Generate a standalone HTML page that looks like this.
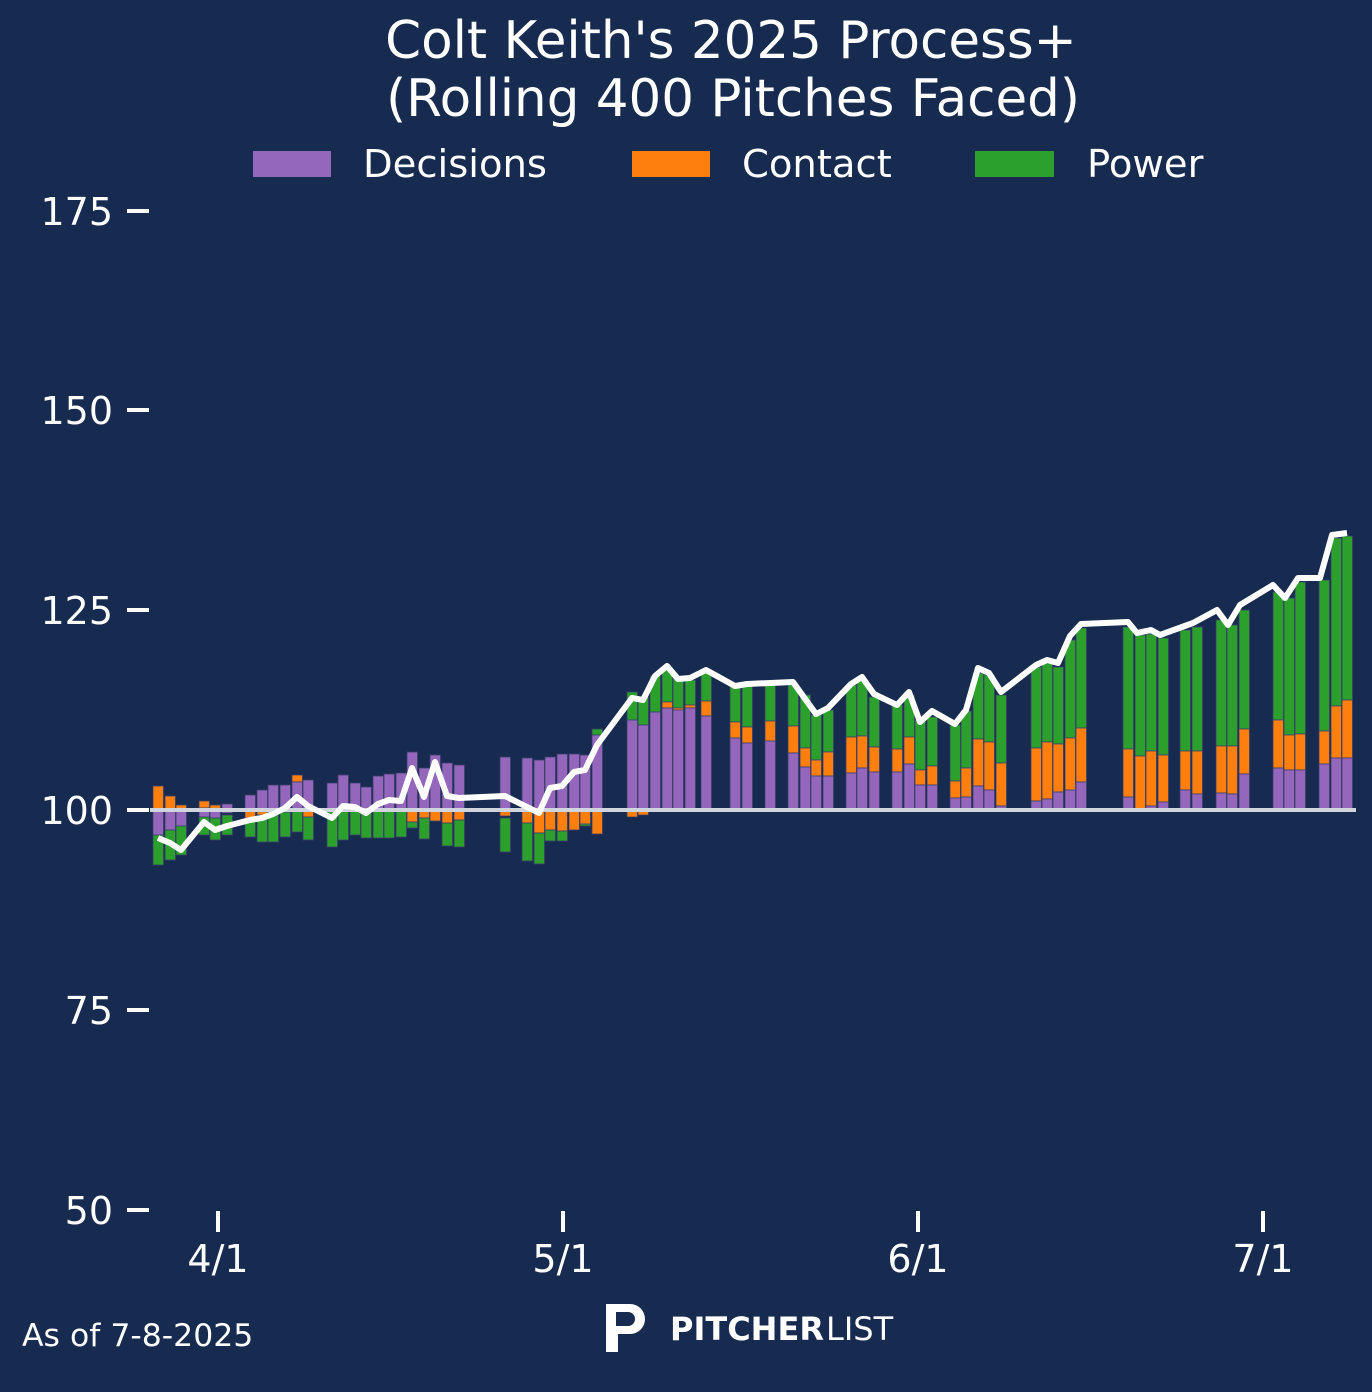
<!DOCTYPE html>
<html><head><meta charset="utf-8"><style>
html,body{margin:0;padding:0;background:#172a50;}
svg{display:block;}
text{font-family:"DejaVu Sans","Liberation Sans",sans-serif;fill:#fff;}
</style></head><body>
<svg id="s" width="1372" height="1392" viewBox="0 0 1372 1392" xmlns="http://www.w3.org/2000/svg">
<rect width="1372" height="1392" fill="#172a50"/>
<text x="731" y="58" font-size="51.5" text-anchor="middle">Colt Keith's 2025 Process+</text>
<text x="733" y="116" font-size="51.5" text-anchor="middle">(Rolling 400 Pitches Faced)</text>
<rect x="253" y="151" width="78" height="26" fill="#9467bd"/>
<text x="363" y="177" font-size="38.5">Decisions</text>
<rect x="632" y="151" width="78" height="26" fill="#ff7f0e"/>
<text x="742" y="177" font-size="38.5">Contact</text>
<rect x="975" y="151" width="79" height="26" fill="#2ca02c"/>
<text x="1087" y="177" font-size="38.5">Power</text>
<g font-size="38" text-anchor="end">
<text x="113" y="225">175</text><text x="113" y="424">150</text><text x="113" y="624">125</text>
<text x="113" y="824">100</text><text x="113" y="1024">75</text><text x="113" y="1224">50</text>
</g>
<g stroke="#fff" stroke-width="4">
<line x1="127" y1="211" x2="149" y2="211"/><line x1="127" y1="410" x2="149" y2="410"/>
<line x1="127" y1="610" x2="149" y2="610"/><line x1="127" y1="810" x2="149" y2="810"/>
<line x1="127" y1="1010" x2="149" y2="1010"/><line x1="127" y1="1210" x2="149" y2="1210"/>
<line x1="218" y1="1211" x2="218" y2="1232"/><line x1="563" y1="1211" x2="563" y2="1232"/>
<line x1="918" y1="1211" x2="918" y2="1232"/><line x1="1263" y1="1211" x2="1263" y2="1232"/>
</g>
<g font-size="38" text-anchor="middle">
<text x="218" y="1272">4/1</text><text x="563" y="1272">5/1</text><text x="918" y="1272">6/1</text><text x="1263" y="1272">7/1</text>
</g>
<g id="bars"></g>
<line x1="150" y1="810" x2="1356" y2="810" stroke="#d0d4dc" stroke-width="4"/>
<polyline id="ln" fill="none" stroke="#fff" stroke-width="6" stroke-linejoin="round"/>
<text x="22" y="1346" font-size="31.5">As of 7-8-2025</text>
<g>
<path d="M606 1352 V1304 H630 A14 14 0 0 1 630 1334 H618 V1352 Z M616 1312 V1326 H628 A7 7 0 0 0 628 1312 Z" fill="#fff"/>
<text x="670" y="1340" font-size="32" font-weight="bold">PITCHER</text>
<text x="826" y="1340" font-size="32">LIST</text>
</g>
</svg>
<script>
var C={P:"#9467bd",O:"#ff7f0e",G:"#2ca02c"};
var B=[
[158,"O",786,810,"P",810,835,"G",835,865],
[170,"O",796,810,"P",810,830,"G",830,860],
[181,"O",805,810,"P",810,826,"G",826,855],
[204,"O",801,808,"P",808,817,"G",817,835],
[215,"O",805,810,"P",810,818,"G",818,840],
[227,"P",804,813,"G",815,835],
[250,"P",795,810,"O",810,818,"G",818,837],
[262,"P",790,810,"O",810,815,"G",815,842],
[273,"P",785,810,"G",812,842],
[285,"P",785,810,"G",812,837],
[297,"O",775,782,"P",782,810,"G",810,832],
[308,"P",780,810,"O",810,817,"G",817,840],
[332,"P",783,810,"G",810,847],
[343,"P",775,810,"G",810,840],
[355,"P",783,810,"G",810,835],
[366,"P",787,810,"G",810,838],
[378,"P",776,810,"G",810,838],
[389,"P",774,810,"G",810,838],
[401,"P",773,810,"G",810,837],
[412,"P",752,810,"O",810,822,"G",822,828],
[424,"P",768,810,"O",810,818,"G",818,839],
[435,"P",755,810,"O",810,821],
[447,"P",763,810,"O",810,823,"G",823,846],
[459,"P",765,810,"O",810,820,"G",820,847],
[505,"P",757,810,"O",810,816,"G",818,852],
[527,"P",758,810,"O",810,823,"G",823,861],
[539,"P",760,810,"O",810,833,"G",833,864],
[550,"P",757,810,"O",810,830,"G",830,841],
[562,"P",754,810,"O",810,831,"G",831,841],
[574,"P",754,810,"O",810,830],
[585,"P",755,810,"O",810,824,"G",824,826],
[597,"G",729,735,"P",735,810,"O",810,834],
[632,"G",692,720,"P",720,810,"O",810,817],
[643,"G",697,725,"P",725,810,"O",810,815],
[655,"G",676,712,"P",712,810],
[667,"G",670,702,"O",702,708,"P",708,810],
[678,"G",678,708,"O",708,710,"P",710,810],
[690,"G",680,705,"O",705,708,"P",708,810],
[706,"G",672,701,"O",701,716,"P",716,810],
[735,"G",685,722,"O",722,738,"P",738,810],
[747,"G",685,727,"O",727,743,"P",743,810],
[770,"G",685,721,"O",721,741,"P",741,810],
[793,"G",685,726,"O",726,753,"P",753,810],
[805,"G",695,748,"O",748,767,"P",767,810],
[816,"G",715,760,"O",760,776,"P",776,810],
[828,"G",710,752,"O",752,776,"P",776,810],
[851,"G",685,737,"O",737,773,"P",773,810],
[862,"G",680,736,"O",736,768,"P",768,810],
[874,"G",697,747,"O",747,772,"P",772,810],
[897,"G",705,749,"O",749,772,"P",772,810],
[909,"G",695,737,"O",737,764,"P",764,810],
[920,"G",720,770,"O",770,785,"P",785,810],
[932,"G",717,766,"O",766,785,"P",785,810],
[955,"G",725,781,"O",781,798,"P",798,810],
[966,"G",711,768,"O",768,797,"P",797,810],
[978,"G",673,739,"O",739,786,"P",786,810],
[989,"G",675,742,"O",742,790,"P",790,810],
[1001,"G",695,763,"O",763,806,"P",806,810],
[1036,"G",667,748,"O",748,801,"P",801,810],
[1047,"G",663,742,"O",742,799,"P",799,810],
[1058,"G",667,744,"O",744,792,"P",792,810],
[1070,"G",640,738,"O",738,790,"P",790,810],
[1081,"G",628,728,"O",728,782,"P",782,810],
[1128,"G",627,749,"O",749,797,"P",797,810],
[1140,"G",635,756,"O",756,810],
[1151,"G",634,751,"O",751,806,"P",806,810],
[1163,"G",638,755,"O",755,802,"P",802,810],
[1185,"G",630,751,"O",751,790,"P",790,810],
[1197,"G",627,751,"O",751,794,"P",794,810],
[1221,"G",620,746,"O",746,793,"P",793,810],
[1232,"G",625,746,"O",746,794,"P",794,810],
[1244,"G",610,729,"O",729,774,"P",774,810],
[1278,"G",592,720,"O",720,768,"P",768,810],
[1289,"G",598,735,"O",735,770,"P",770,810],
[1300,"G",582,734,"O",734,770,"P",770,810],
[1324,"G",580,731,"O",731,764,"P",764,810],
[1336,"G",538,706,"O",706,758,"P",758,810],
[1347,"G",536,700,"O",700,758,"P",758,810]];
var h="";
B.forEach(function(b){var x=b[0];for(var i=1;i<b.length;i+=3){
h+='<rect x="'+(x-5)+'" y="'+b[i+1]+'" width="10.5" height="'+(b[i+2]-b[i+1])+'" fill="'+C[b[i]]+'" stroke="#3a3f6a" stroke-width="0.8"/>';}});
document.getElementById("bars").innerHTML=h;
var L=[[158,838],[170,843],[181,850],[204,822],[215,830],[227,826],[250,820],[262,818],[273,814],[285,808],[297,797],[308,806],[332,818],[343,806],[355,807],[366,813],[378,804],[389,800],[401,801],[412,768],[424,797],[435,762],[447,796],[459,798],[505,796],[539,813],[550,788],[562,786],[574,772],[585,770],[597,745],[632,698],[643,700],[655,676],[667,666],[678,679],[690,678],[706,670],[735,686],[747,684],[793,682],[816,714],[828,708],[851,684],[862,677],[874,694],[897,705],[909,692],[920,722],[932,711],[955,724],[966,710],[978,668],[989,673],[1001,692],[1036,665],[1047,660],[1058,663],[1070,636],[1081,624],[1128,622],[1137,633],[1151,630],[1160,635],[1193,623],[1217,610],[1228,625],[1240,605],[1273,585],[1285,598],[1298,578],[1320,578],[1332,535],[1347,533]];
document.getElementById("ln").setAttribute("points",L.map(function(p){return p.join(",")}).join(" "));
</script>
</body></html>
